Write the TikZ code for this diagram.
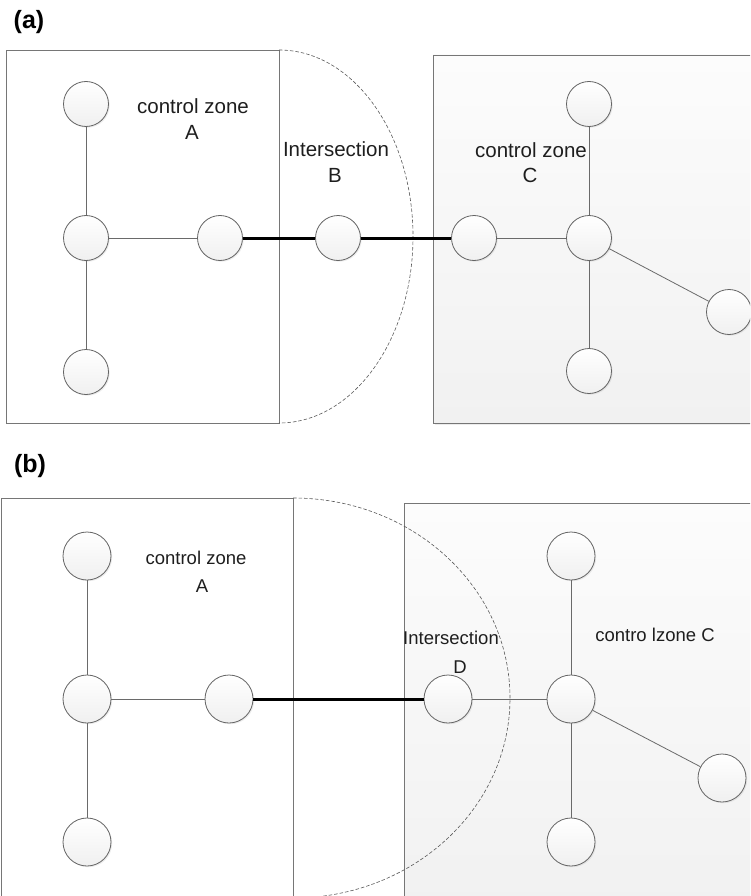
\documentclass[tikz,border=0pt]{standalone}
\usepackage{fontspec}
\setmainfont{Liberation Sans}
\usetikzlibrary{shadows}
\definecolor{edgegray}{HTML}{767676}
\definecolor{linkgray}{HTML}{6A6A6A}
\definecolor{inkgray}{HTML}{1E1E1E}
\definecolor{zonetop}{HTML}{FCFCFC}
\definecolor{zonebot}{HTML}{F1F1F1}
\begin{document}
\begin{tikzpicture}[x=1pt,y=-1pt,
  zone/.style={draw=edgegray,line width=0.9pt},
  zoneA/.style={zone,fill=white},
  zoneC/.style={zone,top color=zonetop,bottom color=zonebot,
    drop shadow={opacity=0.15,shadow xshift=1.5pt,shadow yshift=-1.5pt}},
  site/.style={circle,draw=edgegray!85!black,line width=0.8pt,inner sep=0pt,
    top color=white,bottom color=white!94!black,
    drop shadow={opacity=0.15,shadow xshift=1.2pt,shadow yshift=-1.2pt}},
  siteA/.style={site,minimum size=45pt},
  siteB/.style={site,minimum size=48pt},
  link/.style={draw=linkgray,line width=0.8pt},
  trunk/.style={draw=black,line width=3pt},
  bound/.style={draw=black!65,line width=0.6pt,dash pattern=on 3.5pt off 2pt},
  lblA/.style={text=inkgray,font=\fontsize{20.5}{24}\selectfont,inner sep=0pt},
  lblB/.style={text=inkgray,font=\fontsize{18.5}{22}\selectfont,inner sep=0pt},
  tag/.style={text=black,font=\fontsize{25}{29}\selectfont\bfseries,inner sep=0pt}]
\useasboundingbox (0,0) rectangle (750,896);
\clip (0,0) rectangle (750,896);

% ---------------- (a) ----------------
\node[tag] (taga) at (29,22) {(a)};
\path[zoneA] (6,50) rectangle (279,423);
\path[zoneC] (433,55) rectangle (770,423);
\draw[bound] (279,50) arc[start angle=-90,end angle=90,x radius=134,y radius=186.5];

\node[siteA] (aA1) at (86,104) {};
\node[siteA] (aA2) at (86,238) {};
\node[siteA] (aA3) at (86,372) {};
\node[siteA] (aA4) at (220,238) {};
\node[siteA] (aB)  at (338,238) {};
\node[siteA] (aC1) at (474,238) {};
\node[siteA] (aC0) at (589,238) {};
\node[siteA] (aC2) at (589,104) {};
\node[siteA] (aC3) at (589,371) {};
\node[siteA] (aC4) at (729,312) {};

\draw[link] (aA1) -- (aA2);
\draw[link] (aA2) -- (aA3);
\draw[link] (aA2) -- (aA4);
\draw[link] (aC1) -- (aC0);
\draw[link] (aC0) -- (aC2);
\draw[link] (aC0) -- (aC3);
\draw[link] (aC0) -- (aC4);
\draw[trunk] (aA4) -- (aB);
\draw[trunk] (aB) -- (aC1);

\node[lblA] (czA1) at (193,106) {control zone};
\node[lblA] (czA2) at (192,132) {A};
\node[lblA] (isB1) at (336,149) {Intersection};
\node[lblA] (isB2) at (335,175) {B};
\node[lblA] (czC1) at (531,150) {control zone};
\node[lblA] (czC2) at (530,175) {C};

% ---------------- (b) ----------------
\node[tag] (tagb) at (30,466) {(b)};
\path[zoneA] (1,498) rectangle (293,910);
\path[zoneC] (404,503) rectangle (770,910);
\draw[bound] (293,498) arc[start angle=-90,end angle=90,x radius=217,y radius=200];

\node[siteB] (bA1) at (87,556) {};
\node[siteB] (bA2) at (87,699) {};
\node[siteB] (bA3) at (87,842) {};
\node[siteB] (bA4) at (229,699) {};
\node[siteB] (bD)  at (448,699) {};
\node[siteB] (bC0) at (571,699) {};
\node[siteB] (bC2) at (571,556) {};
\node[siteB] (bC3) at (571,842) {};
\node[siteB] (bC4) at (722,778) {};

\draw[link] (bA1) -- (bA2);
\draw[link] (bA2) -- (bA3);
\draw[link] (bA2) -- (bA4);
\draw[link] (bD) -- (bC0);
\draw[link] (bC0) -- (bC2);
\draw[link] (bC0) -- (bC3);
\draw[link] (bC0) -- (bC4);
\draw[trunk] (bA4) -- (bD);

\node[lblB] (czA3) at (196,558) {control zone};
\node[lblB] (czA4) at (202,586) {A};
\node[lblB] (isD1) at (451,638) {Intersection};
\node[lblB] (isD2) at (460,667) {D};
\node[lblB] (czC3) at (655,635) {contro lzone C};
\end{tikzpicture}
\end{document}
